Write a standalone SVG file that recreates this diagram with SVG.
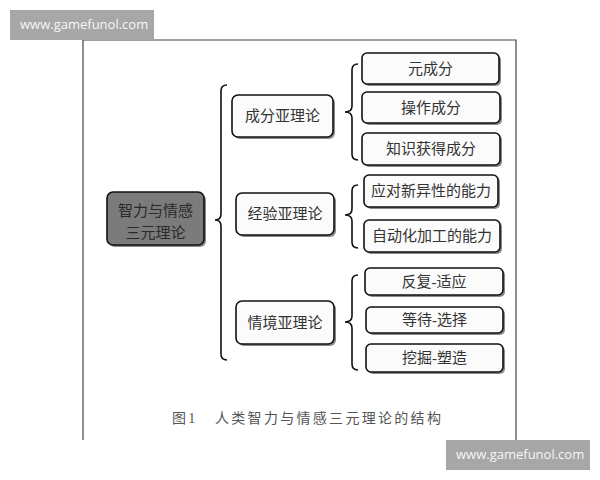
<svg xmlns="http://www.w3.org/2000/svg" width="600" height="480" viewBox="0 0 600 480">
<style>
.box{fill:#fbfbfb;stroke:#111;stroke-width:1.6}
.root{fill:#7b7b7b;stroke:#111;stroke-width:1.6}
.shadow{fill:#8a8a8a}
.t{font-family:"Liberation Serif","Noto Sans CJK SC",serif;font-size:15px;fill:#333;text-anchor:middle}
.rt{font-family:"Liberation Serif","Noto Sans CJK SC",serif;font-size:15px;fill:#2a2a2a;text-anchor:middle}
.brace{fill:none;stroke:#111;stroke-width:1.6}
.wm{fill:#a7a7a7}
.wmt{font-family:"Open Sans","Liberation Sans",sans-serif;font-size:13px;fill:#f6f6f6}
.cap{font-family:"Liberation Serif","Noto Sans CJK SC",serif;font-size:14px;fill:#555;letter-spacing:2.3px}
</style>
<rect x="0" y="0" width="600" height="480" fill="#ffffff"/>
<g id="frame">
<path d="M83 440 V40 H516 V440" fill="none" stroke="#444" stroke-width="1.2"/>
</g>
<g id="watermark-top">
<rect class="wm" x="10" y="10" width="144" height="30"/>
<text class="wmt" x="20" y="29">www.gamefunol.com</text>
</g>
<g id="watermark-bottom">
<rect class="wm" x="446" y="440" width="144" height="30"/>
<text class="wmt" x="456" y="459">www.gamefunol.com</text>
</g>
<g id="connectors">
<path class="brace" d="M227 85 Q221 85 221 91 L221 214 Q221 220 215 220 Q221 220 221 226 L221 354 Q221 360 227 360"/>
<path class="brace" d="M358 64 Q352 64 352 70 L352 106 Q352 112 345 112 Q352 112 352 118 L352 154 Q352 160 358 160"/>
<path class="brace" d="M358 185 Q352 185 352 191 L352 209 Q352 215 345 215 Q352 215 352 221 L352 242 Q352 248 358 248"/>
<path class="brace" d="M358 275 Q352 275 352 281 L352 316 Q352 322 345 322 Q352 322 352 328 L352 364 Q352 370 358 370"/>
</g>
<g id="root">
<rect class="shadow" x="109" y="194" width="97" height="53" rx="6"/>
<rect class="root" x="107" y="192" width="97" height="53" rx="6"/>
<text class="rt" x="155.500" y="216">智力与情感</text>
<text class="rt" x="155.500" y="238">三元理论</text>
</g>
<g id="n-component">
<rect class="shadow" x="234" y="97" width="101" height="42" rx="6"/>
<rect class="box" x="232" y="95" width="101" height="42" rx="6"/>
<text class="t" x="282.500" y="121">成分亚理论</text>
</g>
<g id="n-experience">
<rect class="shadow" x="238" y="195" width="98" height="42" rx="6"/>
<rect class="box" x="236" y="193" width="98" height="42" rx="6"/>
<text class="t" x="285" y="219">经验亚理论</text>
</g>
<g id="n-context">
<rect class="shadow" x="238" y="303" width="98" height="43" rx="6"/>
<rect class="box" x="236" y="301" width="98" height="43" rx="6"/>
<text class="t" x="285" y="328">情境亚理论</text>
</g>
<g id="l-meta">
<rect class="shadow" x="364" y="55" width="137" height="31" rx="5"/>
<rect class="box" x="362" y="53" width="137" height="31" rx="5"/>
<text class="t" x="430.500" y="74">元成分</text>
</g>
<g id="l-operate">
<rect class="shadow" x="364" y="94" width="138" height="31" rx="5"/>
<rect class="box" x="362" y="92" width="138" height="31" rx="5"/>
<text class="t" x="431" y="113">操作成分</text>
</g>
<g id="l-knowledge">
<rect class="shadow" x="364" y="135" width="138" height="32" rx="5"/>
<rect class="box" x="362" y="133" width="138" height="32" rx="5"/>
<text class="t" x="431" y="154">知识获得成分</text>
</g>
<g id="l-novelty">
<rect class="shadow" x="366" y="177" width="134" height="32" rx="5"/>
<rect class="box" x="364" y="175" width="134" height="32" rx="5"/>
<text class="t" x="431" y="196">应对新异性的能力</text>
</g>
<g id="l-auto">
<rect class="shadow" x="366" y="222" width="136" height="32" rx="5"/>
<rect class="box" x="364" y="220" width="136" height="32" rx="5"/>
<text class="t" x="432" y="241">自动化加工的能力</text>
</g>
<g id="l-adapt">
<rect class="shadow" x="367" y="270" width="138" height="27" rx="5"/>
<rect class="box" x="365" y="268" width="138" height="27" rx="5"/>
<text class="t" x="434" y="287">反复-适应</text>
</g>
<g id="l-select">
<rect class="shadow" x="368" y="309" width="137" height="26" rx="5"/>
<rect class="box" x="366" y="307" width="137" height="26" rx="5"/>
<text class="t" x="434.500" y="325">等待-选择</text>
</g>
<g id="l-shape">
<rect class="shadow" x="368" y="346" width="137" height="28" rx="5"/>
<rect class="box" x="366" y="344" width="137" height="28" rx="5"/>
<text class="t" x="434.500" y="363">挖掘-塑造</text>
</g>
<g id="caption">
<text class="cap" x="172" y="423">图1</text>
<text class="cap" x="215" y="423">人类智力与情感三元理论的结构</text>
</g>
</svg>
